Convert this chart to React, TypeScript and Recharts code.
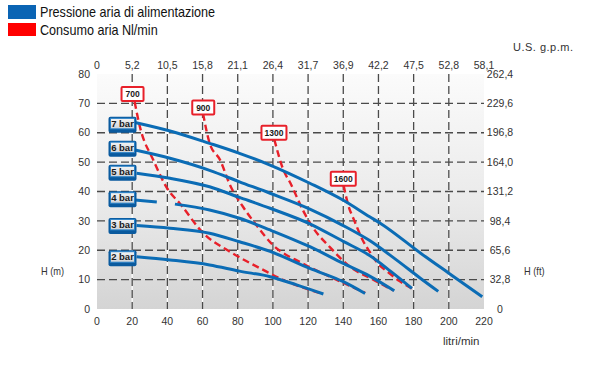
import React from "react";
import {
  ComposedChart,
  Line,
  XAxis,
  YAxis,
  CartesianGrid,
  ReferenceDot,
} from "recharts";

type Pt = { x: number; y: number | null };

const flowTicks = [0, 20, 40, 60, 80, 100, 120, 140, 160, 180, 200, 220];
const gpmLabels = ["0", "5,2", "10,5", "15,8", "21,1", "26,4", "31,7", "36,9", "42,2", "47,5", "52,8", "58,1"];
const headTicks = [0, 10, 20, 30, 40, 50, 60, 70, 80];
const feetLabels = ["0", "32,8", "65,6", "98,4", "131,2", "164,0", "196,8", "229,6", "262,4"];
const gridX = [20, 40, 60, 80, 100, 120, 140, 160, 180, 200];
const gridY = [10, 20, 30, 40, 50, 60, 70];

// pressione aria di alimentazione (blue curves), litri/min vs H (m)
const bar7: Pt[] = [
  { x: 21.6, y: 63.5 }, { x: 41.5, y: 60.6 }, { x: 64, y: 56.4 }, { x: 81, y: 53 },
  { x: 98.4, y: 49 }, { x: 121, y: 42.8 }, { x: 140, y: 37 }, { x: 155, y: 31.4 },
  { x: 161, y: 29.2 }, { x: 184, y: 19 }, { x: 200, y: 12.2 }, { x: 219, y: 4.2 },
];
const bar6: Pt[] = [
  { x: 21.6, y: 54.1 }, { x: 41.5, y: 51.3 }, { x: 64, y: 47.2 }, { x: 81, y: 43.3 },
  { x: 98.4, y: 39.4 }, { x: 121, y: 34 }, { x: 140, y: 28.4 },
  { x: 155, y: 23.3 }, { x: 170, y: 16.8 }, { x: 184, y: 10.4 }, { x: 194, y: 6 },
];
const bar5: Pt[] = [
  { x: 22.5, y: 46.2 }, { x: 41.5, y: 44.5 }, { x: 64, y: 41.6 }, { x: 81, y: 38 },
  { x: 98.4, y: 34.3 }, { x: 121, y: 29 }, { x: 140, y: 23 }, { x: 155, y: 18.2 },
  { x: 167, y: 12.8 }, { x: 179, y: 7 },
];
const bar4: Pt[] = [
  { x: 21.5, y: 37.1 }, { x: 34, y: 36.4 }, { x: 39, y: null },
  { x: 44.3, y: 35.7 }, { x: 64, y: 33.7 }, { x: 81, y: 30.9 }, { x: 98.4, y: 26.9 },
  { x: 121, y: 21.2 }, { x: 140, y: 15.5 }, { x: 155, y: 11.2 }, { x: 169, y: 6.2 },
];
const bar3: Pt[] = [
  { x: 22.5, y: 28.4 }, { x: 41.5, y: 27.5 }, { x: 64, y: 25.8 }, { x: 81, y: 22.9 },
  { x: 98.4, y: 19.6 }, { x: 121, y: 13.8 }, { x: 140, y: 9.3 }, { x: 152.4, y: 5.3 },
];
const bar2: Pt[] = [
  { x: 22.5, y: 17.8 }, { x: 41.5, y: 16.7 }, { x: 64, y: 15 }, { x: 81, y: 12.9 },
  { x: 98.4, y: 11 }, { x: 113.5, y: 8.2 }, { x: 128.7, y: 5.1 },
];

// consumo aria Nl/min (red dashed)
const air700: Pt[] = [
  { x: 21.4, y: 70.5 }, { x: 24.4, y: 62 }, { x: 32, y: 50.7 }, { x: 40.5, y: 40.5 },
  { x: 47, y: 36 }, { x: 60.4, y: 25.8 }, { x: 75.6, y: 19.5 }, { x: 94.5, y: 13.3 },
  { x: 104, y: 10.4 }, { x: 121, y: 6.5 }, { x: 128, y: 5.2 },
];
const air900: Pt[] = [
  { x: 60.3, y: 66.5 }, { x: 64, y: 56.5 }, { x: 70, y: 50.7 }, { x: 75.6, y: 42.2 },
  { x: 83, y: 34.8 }, { x: 90, y: 29 }, { x: 100, y: 21.8 }, { x: 117, y: 15.5 },
  { x: 136, y: 10 }, { x: 152.4, y: 5.5 },
];
const air1300: Pt[] = [
  { x: 100.8, y: 57.7 }, { x: 106, y: 47.3 }, { x: 110, y: 42.8 }, { x: 117, y: 33.7 },
  { x: 123, y: 27.5 }, { x: 132.5, y: 21 }, { x: 143.8, y: 14.4 }, { x: 157, y: 10 },
  { x: 168.5, y: 6.3 },
];
const air1600: Pt[] = [
  { x: 140.2, y: 42 }, { x: 143, y: 35 }, { x: 146, y: 30.5 }, { x: 151, y: 23.5 },
  { x: 155, y: 19.5 }, { x: 159, y: 16 }, { x: 166.6, y: 12 }, { x: 172, y: 9.5 },
  { x: 179, y: 7 },
];

const pressureNames = ["7 bar", "6 bar", "5 bar", "4 bar", "3 bar", "2 bar"];
const pressureSeries = [bar7, bar6, bar5, bar4, bar3, bar2];
const pressureTagHead = [63.2, 55.1, 46.9, 37.9, 28.8, 17.8];
const pressureTagFlow = 14.5;

const airNames = ["700", "900", "1300", "1600"];
const airSeries = [air700, air900, air1300, air1600];
const airTagFlow = [20.2, 60.4, 100.6, 140];
const airTagHead = [73.2, 68.6, 60, 44.3];

const FONT = "'Liberation Sans', Arial, Helvetica, sans-serif";
const BLUE = "#0b6cb5";
const RED = "#e8202a";

const PressureTag = (props: any) => {
  const { cx, cy, text } = props;
  return (
    <g>
      <rect x={cx - 14} y={cy - 6.5} width={28} height={16} rx={2} fill="#0a5a9e" />
      <rect x={cx - 12} y={cy - 5} width={24} height={10.5} fill="url(#tagFace)" stroke="#2a82c8" strokeWidth={1} />
      <text x={cx} y={cy + 3.4} textAnchor="middle" fontSize={9.5} fontWeight="bold" fill="#1a1a1a" fontFamily={FONT}>
        {text}
      </text>
    </g>
  );
};

const AirTag = (props: any) => {
  const { cx, cy, text } = props;
  const w = text.length > 3 ? 25 : 22;
  return (
    <g>
      <rect x={cx - w / 2} y={cy - 7} width={w} height={14} rx={1} fill="#fff" stroke={RED} strokeWidth={2} />
      <text x={cx} y={cy + 3.2} textAnchor="middle" fontSize={8.5} fontWeight="bold" fill="#1a1a1a" fontFamily={FONT}>
        {text}
      </text>
    </g>
  );
};

const tickStyle = { fontSize: 10.5, fill: "#333", fontFamily: FONT };
const narrow = { transform: "scaleX(0.84)", transformOrigin: "0 0", whiteSpace: "nowrap" as const };

const App: React.FC = () => {
  return (
    <div style={{ position: "absolute", left: 0, top: 0, width: 600, height: 370, background: "#fff", fontFamily: FONT }}>
      <svg width={0} height={0} style={{ position: "absolute" }}>
        <defs>
          <linearGradient id="plotBg" x1="0" y1="0" x2="0" y2="1">
            <stop offset="0%" stopColor="#fbfbfb" />
            <stop offset="55%" stopColor="#eaeaea" />
            <stop offset="100%" stopColor="#d4d4d4" />
          </linearGradient>
          <linearGradient id="tagFace" x1="0" y1="0" x2="0" y2="1">
            <stop offset="0%" stopColor="#f4f4f4" />
            <stop offset="100%" stopColor="#cfd3d8" />
          </linearGradient>
        </defs>
      </svg>

      <div style={{ position: "absolute", left: 8, top: 5, width: 28, height: 14, background: "#0a64b4" }} />
      <div style={{ position: "absolute", left: 40, top: 3, fontSize: 15, lineHeight: "18px", color: "#111", ...narrow }}>
        Pressione aria di alimentazione
      </div>
      <div style={{ position: "absolute", left: 8, top: 23, width: 28, height: 13, background: "#ff0000" }} />
      <div style={{ position: "absolute", left: 40, top: 21, fontSize: 15, lineHeight: "18px", color: "#111", ...narrow }}>
        Consumo aria Nl/min
      </div>
      <div style={{ position: "absolute", left: 513, top: 40, fontSize: 11, lineHeight: "14px", color: "#333", letterSpacing: 0.5 }}>
        U.S. g.p.m.
      </div>

      <ComposedChart width={600} height={370} margin={{ top: 54, right: 76, bottom: 41, left: 57 }}>
        <CartesianGrid fill="url(#plotBg)" horizontal={false} vertical={false} />
        <CartesianGrid horizontal={false} verticalValues={gridX} stroke="#ffffff" strokeWidth={1.2} />
        <CartesianGrid
          verticalValues={gridX}
          horizontalValues={gridY}
          stroke="#4a4a4a"
          strokeWidth={1.3}
          strokeDasharray="8 4"
        />
        <XAxis
          dataKey="x"
          type="number"
          domain={[0, 220]}
          ticks={flowTicks}
          height={20}
          axisLine={false}
          tickLine={false}
          tickSize={0}
          tickMargin={9}
          tick={tickStyle}
          interval={0}
        />
        <XAxis
          xAxisId="top"
          orientation="top"
          dataKey="x"
          type="number"
          domain={[0, 220]}
          ticks={flowTicks}
          height={20}
          axisLine={false}
          tickLine={false}
          tickSize={0}
          tickMargin={5}
          tick={tickStyle}
          interval={0}
          tickFormatter={(v: number) => gpmLabels[flowTicks.indexOf(v)]}
        />
        <YAxis
          type="number"
          domain={[0, 80]}
          ticks={headTicks}
          width={40}
          axisLine={false}
          tickLine={false}
          tickSize={0}
          tickMargin={7}
          tick={tickStyle}
          interval={0}
        />
        <YAxis
          yAxisId="right"
          orientation="right"
          type="number"
          domain={[0, 80]}
          ticks={headTicks}
          width={40}
          axisLine={false}
          tickLine={false}
          tickSize={0}
          tickMargin={16}
          tick={{ ...tickStyle, textAnchor: "middle" }}
          interval={0}
          tickFormatter={(v: number) => feetLabels[headTicks.indexOf(v)]}
        />

        {/* invisible twin of the 7 bar curve so the secondary axes get drawn */}
        <Line
          xAxisId="top"
          yAxisId="right"
          data={bar7}
          dataKey="y"
          stroke="none"
          dot={false}
          activeDot={false}
          legendType="none"
          isAnimationActive={false}
        />

        {airSeries.map((s, i) => (
          <Line
            key={airNames[i]}
            data={s}
            dataKey="y"
            type="monotone"
            stroke={RED}
            strokeWidth={2.4}
            strokeDasharray="7 4"
            dot={false}
            activeDot={false}
            isAnimationActive={false}
          />
        ))}
        {pressureSeries.map((s, i) => (
          <Line
            key={pressureNames[i]}
            data={s}
            dataKey="y"
            type="monotone"
            stroke={BLUE}
            strokeWidth={3}
            dot={false}
            activeDot={false}
            connectNulls={false}
            isAnimationActive={false}
          />
        ))}

        {pressureNames.map((n, i) => (
          <ReferenceDot
            key={"p" + n}
            x={pressureTagFlow}
            y={pressureTagHead[i]}
            r={1}
            shape={(p: any) => <PressureTag cx={p.cx} cy={p.cy} text={n} />}
          />
        ))}
        {airNames.map((n, i) => (
          <ReferenceDot
            key={"a" + n}
            x={airTagFlow[i]}
            y={airTagHead[i]}
            r={1}
            shape={(p: any) => <AirTag cx={p.cx} cy={p.cy} text={n} />}
          />
        ))}
      </ComposedChart>

      <div style={{ position: "absolute", left: 41, top: 264, fontSize: 11, lineHeight: "14px", color: "#333", ...narrow }}>
        H (m)
      </div>
      <div style={{ position: "absolute", left: 524, top: 264, fontSize: 11, lineHeight: "14px", color: "#333", ...narrow }}>
        H (ft)
      </div>
      <div style={{ position: "absolute", left: 443, top: 334, fontSize: 11.5, lineHeight: "14px", color: "#333" }}>
        litri/min
      </div>
    </div>
  );
};

export default App;
